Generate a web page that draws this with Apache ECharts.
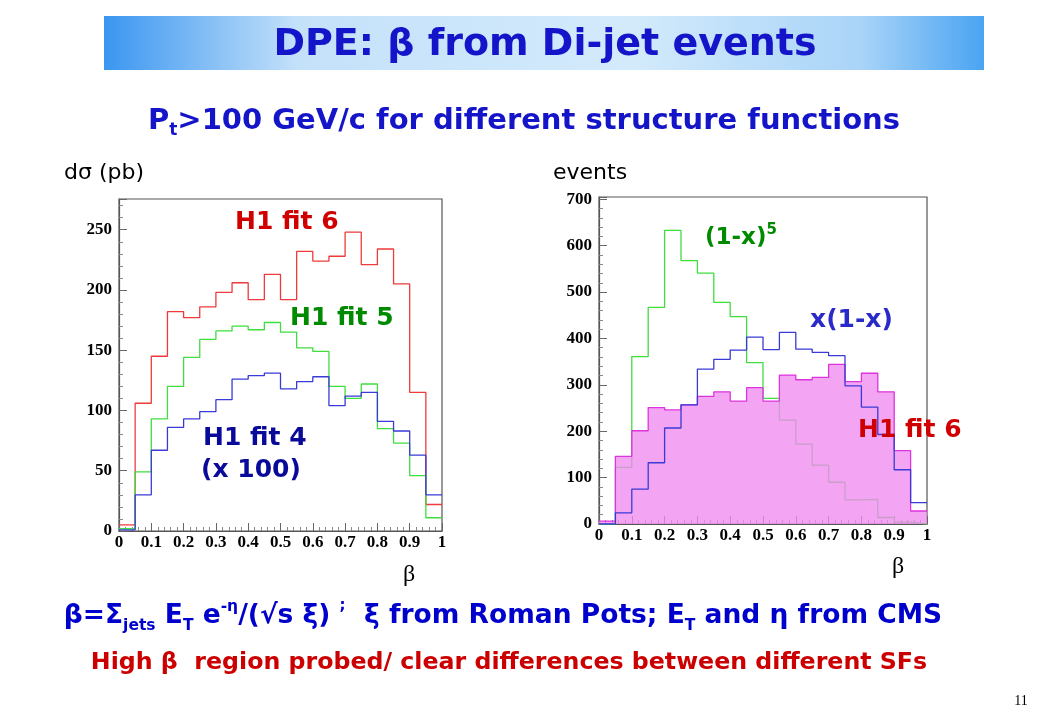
<!DOCTYPE html>
<html><head><meta charset="utf-8">
<script src="https://cdn.jsdelivr.net/npm/echarts@6/dist/echarts.min.js"></script>
<style>html,body{margin:0;padding:0;background:#fff}#c{width:1040px;height:720px}</style>
</head><body><div id="c"></div>
<script>
// bin edges of beta (20 bins of width 0.05)
const binEdges = [0,0.05,0.1,0.15,0.2,0.25,0.3,0.35,0.4,0.45,0.5,0.55,0.6,0.65,0.7,0.75,0.8,0.85,0.9,0.95,1];
// left panel: dsigma (pb)
const leftFit6 = [5,106,145,182,177,186,198,206,192,213,192,232,224,228,248,221,234,205,115,22];
const leftFit5 = [2,49,93,120,144,159,166,170,167,173,165,152,149,120,110,122,85,73,46,11];
const leftFit4x100 = [1,30,67,86,93,99,109,126,129,131,118,124,128,104,112,115,91,83,63,30];
// right panel: events
const rightOneMinusX5 = [0,122,361,467,633,568,541,478,447,348,271,224,172,127,90,52,53,14,4,0];
const rightXOneMinusX = [0,24,75,132,207,257,334,355,375,403,376,413,377,370,363,298,252,193,117,46];
const rightFit6 = [6,146,201,251,246,257,275,285,265,294,265,321,311,316,344,307,325,285,158,28];
const xTicks = [0,0.1,0.2,0.3,0.4,0.5,0.6,0.7,0.8,0.9,1];

function steps(vals){
  return binEdges.map((e,i)=>[e, vals[Math.min(i, vals.length-1)]]);
}
const chart = echarts.init(document.getElementById('c'), null, {renderer:'canvas'});
const serifLbl = {fontFamily:'Liberation Serif', fontWeight:'bold', fontSize:17, color:'#000'};
function xAx(idx){
  return {type:'value', gridIndex:idx, min:0, max:1, interval:0.1,
    axisLine:{show:true, lineStyle:{color:'#555', width:1.2}},
    axisTick:{show:true, inside:true, length:8, lineStyle:{color:'#666'}},
    minorTick:{show:true, splitNumber:5, length:4, lineStyle:{color:'#888'}},
    splitLine:{show:false},
    axisLabel:Object.assign({margin:3, formatter:v=>{const t=xTicks.find(k=>Math.abs(k-v)<1e-6); return t===undefined?'':String(t);}}, serifLbl)};
}
function yAx(idx,max,interval){
  return {type:'value', gridIndex:idx, min:0, max:max, interval:interval,
    axisLine:{show:true, lineStyle:{color:'#555', width:1.2}},
    axisTick:{show:true, inside:true, length:8, lineStyle:{color:'#666'}},
    minorTick:{show:true, splitNumber:5, length:4, lineStyle:{color:'#888'}},
    splitLine:{show:false},
    axisLabel:Object.assign({margin:7, showMaxLabel:false}, serifLbl)};
}
function line(data, color, xi, z, extra){
  return Object.assign({type:'line', step:'end', symbol:'none', xAxisIndex:xi, yAxisIndex:xi,
    data:steps(data), lineStyle:{color:color, width:1.3}, itemStyle:{color:color}, z:z, silent:true, animation:false}, extra||{});
}
const comic = 'DejaVu Sans';
function txt(x,y,text,size,color,opts){
  return {type:'text', x:x, y:y, z:100, silent:true,
    style:Object.assign({text:text, fill:color, font:'bold '+size+'px "'+comic+'"', textVerticalAlign:'middle', textAlign:'left'}, opts||{})};
}
function rs(size,color,va,lh){
  const o={fontFamily:comic,fontWeight:'bold',fontSize:size,fill:color};
  if(va) o.verticalAlign=va;
  if(lh) o.lineHeight=lh;
  return o;
}
const option = {
  animation:false,
  grid:[
    {left:119, top:199, width:323, height:332, show:true, borderColor:'#555', borderWidth:1.2, backgroundColor:'transparent'},
    {left:599, top:197, width:328, height:327, show:true, borderColor:'#555', borderWidth:1.2, backgroundColor:'transparent'}
  ],
  xAxis:[xAx(0), xAx(1)],
  yAxis:[yAx(0,275.5,50), yAx(1,705,100)],
  series:[
    line(leftFit6,'#ee3a3a',0,3),
    line(leftFit5,'#3fdd3f',0,3),
    line(leftFit4x100,'#3a3ad6',0,4),
    line(rightOneMinusX5,'#3fdd3f',1,2),
    line(rightFit6,'#dd33dd',1,3,{areaStyle:{color:'#f08cf0', opacity:0.78}}),
    line(rightXOneMinusX,'#3a3ad6',1,4)
  ],
  graphic:[
    {type:'rect', z:90, shape:{x:104,y:16,width:880,height:54}, silent:true,
      style:{fill:new echarts.graphic.LinearGradient(0,0,1,0,[
        {offset:0,color:'#3a96f0'},{offset:0.22,color:'#c4e1fa'},{offset:0.6,color:'#d3eafb'},{offset:0.86,color:'#a9d4f8'},{offset:1,color:'#4aa4f2'}])}},
    txt(545,45,'DPE: β from Di-jet events',38,'#1414c8',{textAlign:'center'}),
    {type:'text', x:524, y:121, z:100, silent:true, style:{
      text:'{m|P}{s|t}{m|>100 GeV/c for different structure functions}', textAlign:'center', textVerticalAlign:'middle',
      rich:{m:rs(29,'#1414c8',null,36), s:rs(17,'#1414c8','bottom',17)}}},
    txt(64,173,'dσ (pb)',22,'#000',{font:'22px "'+comic+'"'}),
    txt(553,173,'events',22,'#000',{font:'22px "'+comic+'"'}),
    txt(235,222,'H1 fit 6',25,'#d00000'),
    txt(290,318,'H1 fit 5',25,'#008a00'),
    txt(203,438,'H1 fit 4',25,'#0a0a9a'),
    txt(201,470,'(x 100)',25,'#0a0a9a'),
    {type:'text', x:705, y:238, z:100, silent:true, style:{
      text:'{m|(1-x)}{s|5}', textVerticalAlign:'middle',
      rich:{m:rs(23,'#008a00',null,30), s:rs(15,'#008a00','top',15)}}},
    txt(810,320,'x(1-x)',25,'#2a2ac8'),
    txt(858,430,'H1 fit 6',25,'#d00000'),
    txt(409,575,'β',24,'#000',{font:'24px "Liberation Serif"', textAlign:'center'}),
    txt(898,567,'β',24,'#000',{font:'24px "Liberation Serif"', textAlign:'center'}),
    {type:'text', x:503, y:616, z:100, silent:true, style:{
      text:'{m|β=Σ}{s|jets}{m| E}{s|T}{m| e}{p|-η}{m|/(√s ξ) }{n|;}{m|  ξ from Roman Pots; E}{s|T}{m| and η from CMS}',
      textAlign:'center', textVerticalAlign:'middle',
      rich:{m:rs(26.5,'#0000cc',null,35), n:rs(15,'#0000cc','top',24), s:rs(15.5,'#0000cc','bottom',15.5), p:rs(15.5,'#0000cc','top',15.5)}}},
    txt(509,663,'High β  region probed/ clear differences between different SFs',23.7,'#cc0000',{textAlign:'center'}),
    txt(1021,701,'11',14,'#000',{font:'14px "Liberation Serif"', textAlign:'center'})
  ]
};
chart.setOption(option);
</script></body></html>
